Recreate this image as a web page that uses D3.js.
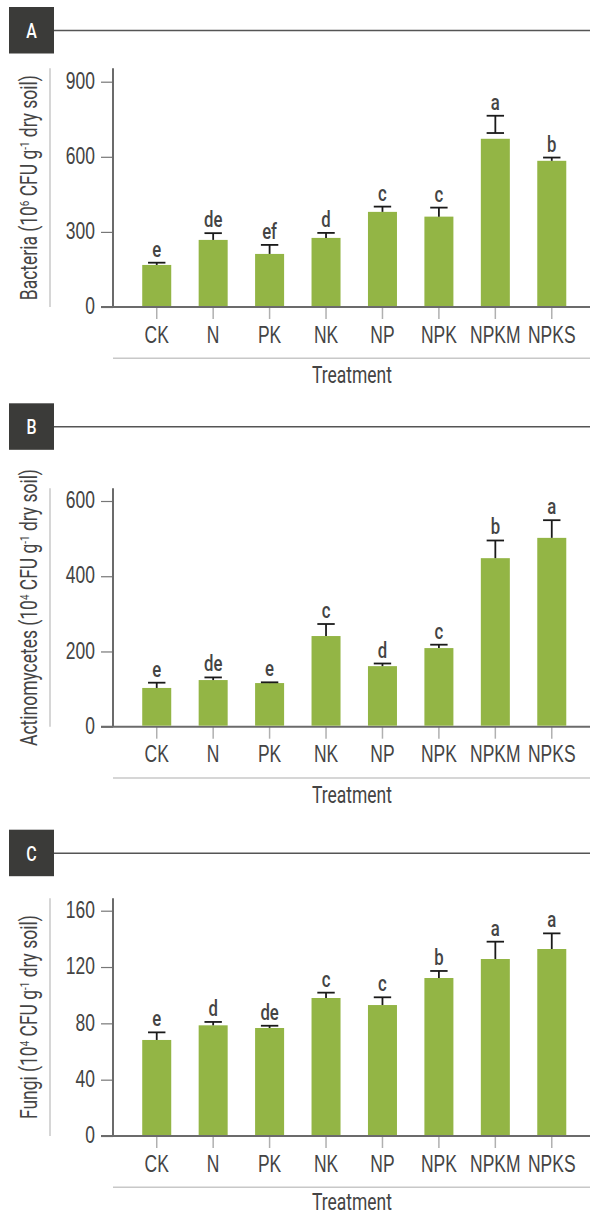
<!DOCTYPE html>
<html>
<head>
<meta charset="utf-8">
<script src="https://cdn.jsdelivr.net/npm/d3@7/dist/d3.min.js"></script>
<style>
  html, body { margin: 0; padding: 0; background: #fff; }
  svg { display: block; font-family: Roboto, "Liberation Sans", "DejaVu Sans", sans-serif; }
</style>
</head>
<body>
<svg id="chart" width="590" height="1216"></svg>
<script>
// ---------- data ----------
const categories = ["CK", "N", "PK", "NK", "NP", "NPK", "NPKM", "NPKS"];

const bacteriaMean    = [168, 268, 212, 276, 380, 361, 672, 584];
const bacteriaErrTop  = [177, 295, 248, 296, 401, 397, 764, 597];
const bacteriaErrBot  = [168, 268, 212, 276, 380, 361, 695, 584];
const bacteriaLetters = ["e", "de", "ef", "d", "c", "c", "a", "b"];
const bacteriaTicks   = [0, 300, 600, 900];

const actinoMean    = [103, 124, 116, 241, 161, 209, 448, 502];
const actinoErrTop  = [117, 131, 118, 273, 168, 218, 495, 549];
const actinoLetters = ["e", "de", "e", "c", "d", "c", "b", "a"];
const actinoTicks   = [0, 200, 400, 600];

const fungiMean    = [68.2, 78.6, 76.7, 98, 93, 112.2, 125.7, 132.8];
const fungiErrTop  = [73.6, 81, 78.3, 101.8, 98.5, 117.2, 138, 143.9];
const fungiLetters = ["e", "d", "de", "c", "c", "b", "a", "a"];
const fungiTicks   = [0, 40, 80, 120, 160];

const panelLetters = ["A", "B", "C"];
const xTitle = "Treatment";

// ---------- layout / style ----------
const W = 590;
const SX = 0.76;               // horizontal condensing of text
const TEXT = "#444";
const BAR = "#93b545";
const layouts = [
  { boxTop: 7,     axisTop: 68.3,  yTopPx: 81.7,  y0: 307,    titleDy: 76 },
  { boxTop: 403.3, axisTop: 488.3, yTopPx: 501,   y0: 726.7,  titleDy: 76 },
  { boxTop: 829.7, axisTop: 898.3, yTopPx: 910.7, y0: 1136,   titleDy: 74 }
];

const panels = [
  { letter: panelLetters[0], label: ["Bacteria (10", "6", " CFU g", "-1", " dry soil)"],
    mean: bacteriaMean, top: bacteriaErrTop, bot: bacteriaErrBot, letters: bacteriaLetters, ticks: bacteriaTicks },
  { letter: panelLetters[1], label: ["Actinomycetes (10", "4", " CFU g", "-1", " dry soil)"],
    mean: actinoMean, top: actinoErrTop, bot: actinoMean, letters: actinoLetters, ticks: actinoTicks },
  { letter: panelLetters[2], label: ["Fungi (10", "4", " CFU g", "-1", " dry soil)"],
    mean: fungiMean, top: fungiErrTop, bot: fungiMean, letters: fungiLetters, ticks: fungiTicks }
];

const svg = d3.select("#chart");

const x = d3.scaleBand().domain(categories).range([114.8, 593.7]).padding(0.486);

function condText(parent, tx, ty, str, size, anchor, color, weight) {
  const g = parent.append("g").attr("transform", `translate(${tx},${ty}) scale(${SX},1)`);
  g.append("text").attr("text-anchor", anchor).attr("font-size", size)
    .attr("fill", color || TEXT).attr("font-weight", weight || 400).text(str);
  return g;
}

panels.forEach((p, i) => {
  const L = layouts[i];
  const g = svg.append("g");
  const yMax = p.ticks[p.ticks.length - 1];
  const y = d3.scaleLinear().domain([0, yMax]).range([L.y0, L.yTopPx]);

  // header box + rule
  g.append("rect").attr("x", 9).attr("y", L.boxTop).attr("width", 45).attr("height", 46.5).attr("fill", "#3b3b39");
  g.append("line").attr("x1", 54).attr("x2", W).attr("y1", L.boxTop + 23.5).attr("y2", L.boxTop + 23.5)
    .attr("stroke", "#555").attr("stroke-width", 1.4);
  condText(g, 31.5, L.boxTop + 31, p.letter, 21, "middle", "#fff", 500);

  // y label guide line
  g.append("line").attr("x1", 50).attr("x2", 50).attr("y1", L.axisTop).attr("y2", L.y0)
    .attr("stroke", "#c8c8c8").attr("stroke-width", 1.5);

  // y label (rotated)
  const cy = (L.axisTop + L.y0) / 2;
  const lg = g.append("g").attr("transform", `translate(37.3,${cy}) rotate(-90) scale(${SX},1)`);
  const lt = lg.append("text").attr("text-anchor", "middle").attr("font-size", 23).attr("fill", TEXT);
  lt.append("tspan").text(p.label[0]);
  lt.append("tspan").attr("font-size", 13).attr("dy", -8).text(p.label[1]);
  lt.append("tspan").attr("dy", 8).text(p.label[2]);
  lt.append("tspan").attr("font-size", 13).attr("dy", -8).text(p.label[3]);
  lt.append("tspan").attr("dy", 8).text(p.label[4]);

  // y axis
  const ya = g.append("g").attr("transform", `translate(113,0)`)
    .call(d3.axisLeft(y).tickValues(p.ticks).tickSize(12).tickPadding(6).tickFormat(d3.format("d")));
  ya.select(".domain").remove();
  ya.selectAll(".tick line").attr("stroke", "#777").attr("stroke-width", 1.2);
  ya.selectAll(".tick text").each(function () {
    const t = d3.select(this);
    const tx = +t.attr("x");
    t.attr("x", 0).attr("dy", "0.29em").attr("transform", `translate(${tx},0) scale(${SX},1)`)
      .attr("font-size", 23).attr("fill", TEXT).attr("font-family", null);
  });
  g.append("line").attr("x1", 113).attr("x2", 113).attr("y1", L.axisTop).attr("y2", L.y0)
    .attr("stroke", "#6b6b6b").attr("stroke-width", 2);

  // x axis
  const xa = g.append("g").attr("transform", `translate(0,${L.y0})`)
    .call(d3.axisBottom(x).tickSize(12).tickPadding(7.4));
  xa.select(".domain").remove();
  xa.selectAll(".tick line").attr("stroke", "#b0b0b0").attr("stroke-width", 1.5);
  xa.selectAll(".tick text").each(function () {
    const t = d3.select(this);
    const ty = +t.attr("y");
    t.attr("y", 0).attr("transform", `translate(0,${ty}) scale(${SX},1)`)
      .attr("font-size", 23).attr("fill", TEXT).attr("font-family", null);
  });
  g.append("line").attr("x1", 101).attr("x2", W).attr("y1", L.y0).attr("y2", L.y0)
    .attr("stroke", "#6b6b6b").attr("stroke-width", 2);

  // bars
  g.selectAll("rect.bar").data(categories).join("rect").attr("class", "bar")
    .attr("x", d => x(d)).attr("width", x.bandwidth())
    .attr("y", (d, j) => y(p.mean[j])).attr("height", (d, j) => L.y0 - 1 - y(p.mean[j]))
    .attr("fill", BAR);

  // error bars
  const cap = 8.7;
  categories.forEach((c, j) => {
    const cx = x(c) + x.bandwidth() / 2;
    const yt = y(p.top[j]), yb = y(p.bot[j]);
    g.append("line").attr("x1", cx).attr("x2", cx).attr("y1", yb).attr("y2", yt)
      .attr("stroke", "#1a1a1a").attr("stroke-width", 1.8);
    g.append("line").attr("x1", cx - cap).attr("x2", cx + cap).attr("y1", yt).attr("y2", yt)
      .attr("stroke", "#1a1a1a").attr("stroke-width", 1.8);
    if (p.bot[j] > p.mean[j]) {
      g.append("line").attr("x1", cx - cap).attr("x2", cx + cap).attr("y1", yb).attr("y2", yb)
        .attr("stroke", "#1a1a1a").attr("stroke-width", 1.8);
    }
    condText(g, cx, yt - 6, p.letters[j], 22, "middle", TEXT, 500);
  });

  // treatment rule + title
  g.append("line").attr("x1", 113).attr("x2", W).attr("y1", L.y0 + 51.3).attr("y2", L.y0 + 51.3)
    .attr("stroke", "#c8c8c8").attr("stroke-width", 1.5);
  condText(g, 352, L.y0 + L.titleDy, xTitle, 23, "middle", TEXT, 400);
});
</script>
</body>
</html>
